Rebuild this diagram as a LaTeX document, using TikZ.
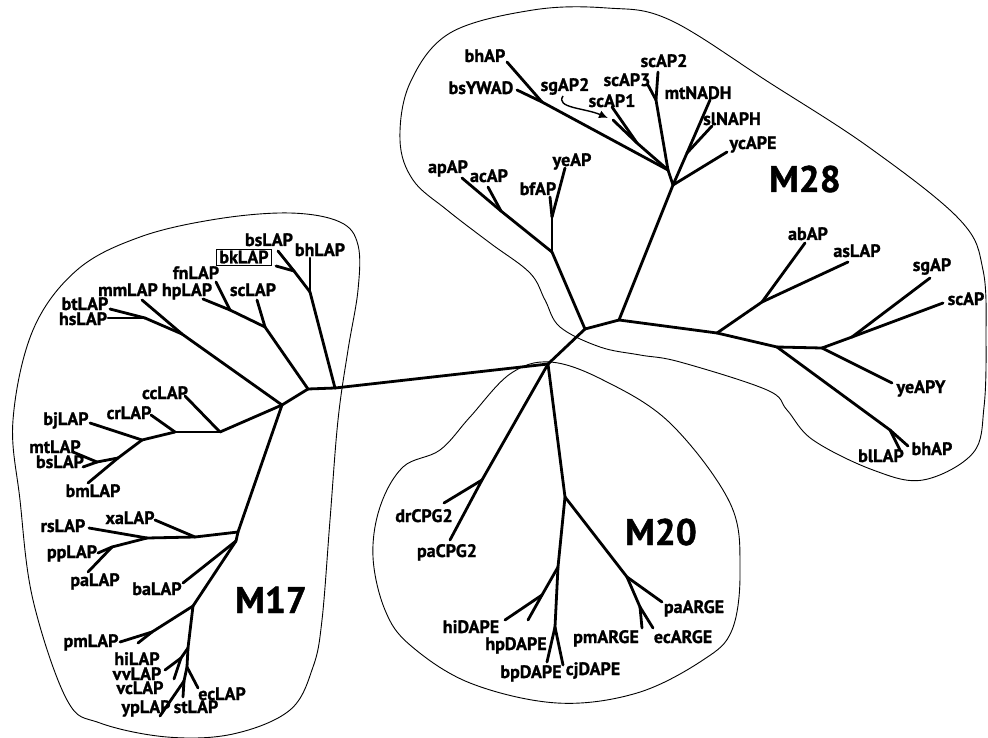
\documentclass[tikz,border=0pt]{standalone}
\usepackage{fontspec}
\setmainfont{PT Sans}[BoldFeatures={FakeBold=1.2}]
\usetikzlibrary{arrows.meta}
\begin{document}
\begin{tikzpicture}[x=1pt,y=-1pt,
  br/.style={line width=2.8pt, line cap=round, line join=round},
  lab/.style={font=\bfseries\fontsize{18}{18}\selectfont, inner sep=0pt, anchor=base},
  big/.style={font=\bfseries\fontsize{37}{37}\selectfont, inner sep=0pt, anchor=base},
  blob/.style={line width=0.9pt}]
\useasboundingbox (0,0) rectangle (988,738);
% ---------- backbone ----------
\coordinate (A) at (308,389); \coordinate (B) at (335,388);
\coordinate (C) at (548,364); \coordinate (D) at (585,329); \coordinate (E) at (619,320);
% ---------- M17 ----------
\coordinate (J1) at (310,292); \coordinate (tbh) at (310,258); \coordinate (J2) at (294,271);
\coordinate (tbs) at (278,251); \coordinate (tbk) at (276,266);
\coordinate (scJ) at (265,327); \coordinate (tsc) at (257,300); \coordinate (hpJ) at (230,310);
\coordinate (thp) at (203,299); \coordinate (tfn) at (216,282);
\coordinate (K17) at (282,405); \coordinate (mmJ) at (182,334); \coordinate (tmm) at (142,300);
\coordinate (btJ) at (145,318); \coordinate (tbt) at (110,309); \coordinate (ths) at (108,318);
\coordinate (ccJ) at (220,432); \coordinate (tcc) at (185,396); \coordinate (crJ) at (175,432);
\coordinate (tcr) at (151,415); \coordinate (bjJ) at (142,440); \coordinate (tbj) at (90,423);
\coordinate (bmJ) at (118,458); \coordinate (tbm) at (88,483); \coordinate (mtJ) at (97,462);
\coordinate (tmt) at (73,452); \coordinate (tbs2) at (83,467);
\coordinate (L17) at (238,532); \coordinate (xaJ) at (195,537); \coordinate (txa) at (155,520);
\coordinate (rsJ) at (147,538); \coordinate (trs) at (89,528); \coordinate (ppJ) at (112,547);
\coordinate (tpp) at (98,553); \coordinate (tpa) at (88,572);
\coordinate (baJ) at (236,541); \coordinate (tba) at (183,583); \coordinate (N1) at (193,606);
\coordinate (pmJ) at (152,632); \coordinate (tpm) at (120,642); \coordinate (tpm2) at (138,643);
\coordinate (N2) at (188,648); \coordinate (hvJ) at (181,658); \coordinate (thi) at (165,670);
\coordinate (tvv) at (174,679); \coordinate (N3) at (187,667); \coordinate (tec) at (198,688);
\coordinate (N4) at (184,681); \coordinate (typ) at (160,716); \coordinate (tst) at (183,697);
% ---------- M28 ----------
\coordinate (apJ) at (552,252); \coordinate (bfJ) at (552,217); \coordinate (tbf) at (550,197);
\coordinate (tye) at (565,168); \coordinate (acJ) at (501,211); \coordinate (tac) at (488,187);
\coordinate (tap) at (462,178);
\coordinate (F) at (673,185); \coordinate (G) at (668,170); \coordinate (tyc) at (727,152);
\coordinate (mnJ) at (687,153); \coordinate (tmn) at (710,100); \coordinate (tsl) at (712,126);
\coordinate (s23J) at (656,100); \coordinate (ts2) at (658,72); \coordinate (ts3) at (648,85);
\coordinate (s1J) at (637,143); \coordinate (ts1) at (612,107); \coordinate (tsg) at (613,120);
\coordinate (bhJ) at (542,102); \coordinate (tbh2) at (507,62); \coordinate (tbsy) at (517,90);
\coordinate (H) at (717,333); \coordinate (abJ) at (762,302); \coordinate (tab) at (805,243);
\coordinate (tas) at (848,262); \coordinate (I) at (777,347); \coordinate (Jr) at (822,348);
\coordinate (sgJ) at (852,337); \coordinate (tsgA) at (930,278); \coordinate (tscA) at (943,303);
\coordinate (tyeY) at (892,383); \coordinate (blJ) at (890,430); \coordinate (tbl) at (900,450);
\coordinate (tbh3) at (908,446);
% ---------- M20 ----------
\coordinate (cpJ) at (482,480); \coordinate (tdr) at (444,503); \coordinate (tpaC) at (450,540);
\coordinate (K20) at (565,497); \coordinate (L20) at (558,567); \coordinate (hdJ) at (542,595);
\coordinate (thiD) at (505,620); \coordinate (thpD) at (528,620); \coordinate (bcJ) at (555,627);
\coordinate (tbp) at (547,662); \coordinate (tcj) at (563,665); \coordinate (argJ) at (627,577);
\coordinate (tpaA) at (662,602); \coordinate (pmJ2) at (640,607); \coordinate (tpmA) at (642,628);
\coordinate (tecA) at (653,628);
% ---------- branches ----------
\foreach \a/\b in {A/B,B/C,C/D,D/E,
  B/J1,J1/tbh,J1/J2,J2/tbs,J2/tbk,A/scJ,scJ/tsc,scJ/hpJ,hpJ/thp,hpJ/tfn,
  A/K17,K17/mmJ,mmJ/tmm,mmJ/btJ,btJ/tbt,btJ/ths,K17/ccJ,ccJ/tcc,ccJ/crJ,crJ/tcr,
  crJ/bjJ,bjJ/tbj,bjJ/bmJ,bmJ/tbm,bmJ/mtJ,mtJ/tmt,mtJ/tbs2,K17/L17,L17/xaJ,xaJ/txa,
  xaJ/rsJ,rsJ/trs,rsJ/ppJ,ppJ/tpp,ppJ/tpa,L17/baJ,baJ/tba,baJ/N1,N1/pmJ,pmJ/tpm,
  pmJ/tpm2,N1/N2,N2/hvJ,hvJ/thi,hvJ/tvv,N2/N3,N3/tec,N3/N4,N4/typ,N4/tst,
  D/apJ,apJ/bfJ,bfJ/tbf,bfJ/tye,apJ/acJ,acJ/tac,acJ/tap,E/F,F/G,F/tyc,F/mnJ,
  mnJ/tmn,mnJ/tsl,G/s23J,s23J/ts2,s23J/ts3,G/s1J,s1J/ts1,s1J/tsg,G/bhJ,bhJ/tbh2,
  bhJ/tbsy,E/H,H/abJ,abJ/tab,abJ/tas,H/I,I/Jr,Jr/sgJ,sgJ/tsgA,sgJ/tscA,Jr/tyeY,
  I/blJ,blJ/tbl,blJ/tbh3,
  C/cpJ,cpJ/tdr,cpJ/tpaC,C/K20,K20/L20,L20/hdJ,hdJ/thiD,hdJ/thpD,L20/bcJ,bcJ/tbp,
  bcJ/tcj,K20/argJ,argJ/tpaA,argJ/pmJ2,pmJ2/tpmA,pmJ2/tecA}
  \draw[br] (\a) -- (\b);
% ---------- group outlines ----------
\draw[blob] plot[smooth cycle, tension=0.6] coordinates {
  (33,330) (77,270) (140,237) (217,219) (290,213) (340,222) (358,245) (358,290)
  (348,350) (338,420) (330,520) (322,620) (313,667) (290,710) (233,734) (167,737)
  (100,723) (67,700) (33,600) (20,500) (13,420)};
\draw[blob] plot[smooth cycle, tension=0.6] coordinates {
  (410,83) (450,33) (533,10) (607,8) (670,20) (770,83) (870,148) (960,220) (983,270)
  (986,340) (984,407) (973,453) (923,480) (873,470) (813,440) (787,410) (767,390)
  (680,362) (640,355) (600,347) (560,327) (545,300) (530,273) (490,243) (447,210)
  (413,180) (400,140)};
\draw[blob] plot[smooth cycle, tension=0.6] coordinates {
  (550,362) (510,374) (470,417) (440,450) (403,467) (380,507) (373,557) (385,610)
  (410,645) (470,683) (557,703) (637,693) (703,660) (732,630) (740,570) (730,503)
  (670,423) (603,380)};
% ---------- labels M17 ----------
\node[lab] (lbsLAP) at (269,246) {bsLAP};
\node[font=\bfseries\fontsize{18}{18}\selectfont, draw, line width=0.9pt, inner xsep=3pt, inner ysep=1.5pt] (lbkLAP) at (244,257) {bkLAP};
\node[lab] (lbhLAP) at (320,256) {bhLAP};
\node[lab] (lfnLAP) at (196,279) {fnLAP};
\node[lab] (lmmLAP) at (128,296) {mmLAP};
\node[lab] (lhpLAP) at (187,296) {hpLAP};
\node[lab] (lscLAP) at (253,296) {scLAP};
\node[lab] (lbtLAP) at (85,310) {btLAP};
\node[lab] (lhsLAP) at (83,325) {hsLAP};
\node[lab] (lccLAP) at (165,399) {ccLAP};
\node[lab] (lcrLAP) at (129,419) {crLAP};
\node[lab] (lbjLAP) at (66,425) {bjLAP};
\node[lab] (lmtLAP) at (55,453) {mtLAP};
\node[lab] (lbsLAPb) at (60,468) {bsLAP};
\node[lab] (lbmLAP) at (93,497) {bmLAP};
\node[lab] (lxaLAP) at (130,524) {xaLAP};
\node[lab] (lrsLAP) at (63,532) {rsLAP};
\node[lab] (lppLAP) at (72,558) {ppLAP};
\node[lab] (lpaLAP) at (95,586) {paLAP};
\node[lab] (lbaLAP) at (157,595) {baLAP};
\node[big] (lM17) at (271,613) {M17};
\node[lab] (lpmLAP) at (91,647) {pmLAP};
\node[lab] (lhiLAP) at (137,665) {hiLAP};
\node[lab] (lvvLAP) at (137,680) {vvLAP};
\node[lab] (lvcLAP) at (140,694) {vcLAP};
\node[lab] (lecLAP) at (222,700) {ecLAP};
\node[lab] (lypLAP) at (146,713) {ypLAP};
\node[lab] (lstLAP) at (196,713) {stLAP};
% ---------- labels M28 ----------
\node[lab] (lbhAP) at (485,62) {bhAP};
\node[lab] (lbsYWAD) at (481,94) {bsYWAD};
\node[lab] (lsgAP2) at (565,91) {sgAP2};
\node[lab] (lscAP3) at (627,86) {scAP3};
\node[lab] (lscAP2) at (664,67) {scAP2};
\node[lab] (lscAP1) at (612,107) {scAP1};
\node[lab] (lmtNADH) at (698,99) {mtNADH};
\node[lab] (lslNAPH) at (732,125) {slNAPH};
\node[lab] (lycAPE) at (753,149) {ycAPE};
\node[big] (lM28) at (805,192) {M28};
\node[lab] (lapAP) at (448,173) {apAP};
\node[lab] (lacAP) at (489,182) {acAP};
\node[lab] (lbfAP) at (538,195) {bfAP};
\node[lab] (lyeAP) at (572,166) {yeAP};
\node[lab] (labAP) at (808,240) {abAP};
\node[lab] (lasLAP) at (857,257) {asLAP};
\node[lab] (lsgAP) at (932,271) {sgAP};
\node[lab] (lscAP) at (966,305) {scAP};
\node[lab] (lyeAPY) at (921,393) {yeAPY};
\node[lab] (lblLAP) at (881,462) {blLAP};
\node[lab] (lbhAPb) at (932,455) {bhAP};
\coordinate (sgStart) at (563,96);
\coordinate (sgEnd) at (608,118);
\draw[line width=1.4pt, -{Latex[length=9pt,width=8pt]}] (sgStart) .. controls (555,108) and (585,108) .. (sgEnd);
% ---------- labels M20 ----------
\node[lab] (ldrCPG2) at (424,522) {drCPG2};
\node[lab] (lpaCPG2) at (447,557) {paCPG2};
\node[big] (lM20) at (661,545) {M20};
\node[lab] (lhiDAPE) at (471,633) {hiDAPE};
\node[lab] (lhpDAPE) at (516,650) {hpDAPE};
\node[lab] (lbpDAPE) at (531,678) {bpDAPE};
\node[lab] (lcjDAPE) at (593,675) {cjDAPE};
\node[lab] (lpmARGE) at (606,643) {pmARGE};
\node[lab] (lecARGE) at (683,643) {ecARGE};
\node[lab] (lpaARGE) at (694,613) {paARGE};
\end{tikzpicture}
\end{document}
